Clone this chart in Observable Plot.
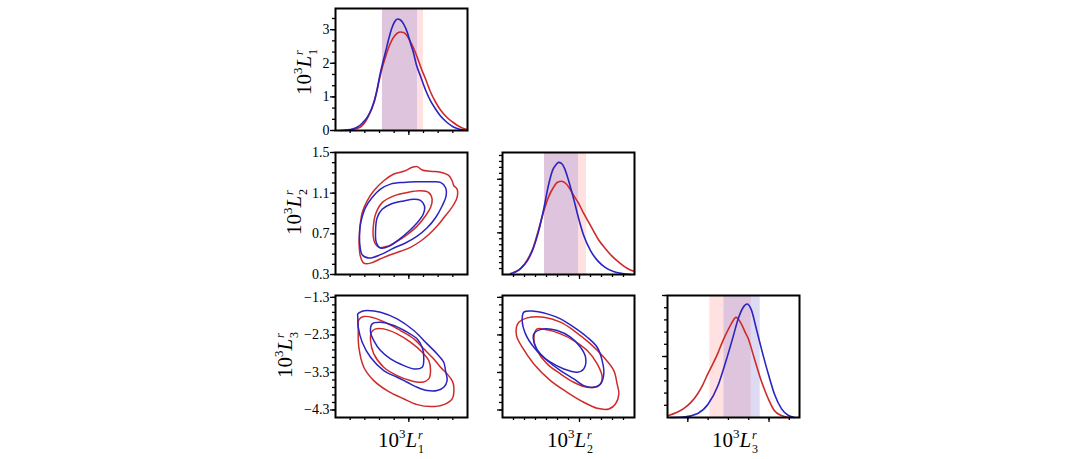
<!DOCTYPE html>
<html><head><meta charset="utf-8">
<script src="https://cdn.jsdelivr.net/npm/d3@7"></script>
<script src="https://cdn.jsdelivr.net/npm/@observablehq/plot@0.6"></script>
<style>
html,body{margin:0;padding:0;background:#fff;}
#root{position:relative;width:1080px;height:459px;overflow:hidden;background:#fff;}
.lab{position:absolute;font-family:"Liberation Serif","Times New Roman",serif;font-size:21px;color:#000;white-space:nowrap;line-height:1;transform:translate(-50%,-50%);}
.lab.rot{transform:translate(-50%,-50%) rotate(-90deg);}
.sup3{font-size:13px;position:relative;top:-9px;}
.ss{display:inline-flex;flex-direction:column;font-size:12px;line-height:14px;vertical-align:8px;margin-left:1px;}
</style></head><body><div id="root"></div>
<script>
// ---------- data ----------
const variables = ["1", "2", "3"];
const seriesColors = {red: "#cf2a2a", blue: "#2a24c0"};

// 1-D marginal densities: [value, density]
const densL1Blue = [[0.134,0],[0.175,0.015],[0.216,0.045],[0.250,0.104],[0.284,0.223],[0.318,0.402],[0.345,0.640],[0.366,0.908],[0.386,1.265],[0.400,1.592],[0.420,1.979],[0.441,2.336],[0.461,2.693],[0.482,3.021],[0.502,3.229],[0.523,3.318],[0.543,3.289],[0.564,3.170],[0.591,2.902],[0.611,2.604],[0.632,2.307],[0.652,1.949],[0.679,1.622],[0.714,1.205],[0.748,0.878],[0.782,0.640],[0.816,0.432],[0.857,0.253],[0.904,0.104],[0.952,0.03],[1.000,0]];
const densL1Red = [[0.168,0],[0.216,0.03],[0.270,0.104],[0.318,0.372],[0.366,0.878],[0.400,1.533],[0.420,1.890],[0.441,2.188],[0.461,2.455],[0.482,2.664],[0.502,2.813],[0.523,2.902],[0.543,2.932],[0.564,2.917],[0.584,2.842],[0.604,2.693],[0.632,2.455],[0.659,2.158],[0.686,1.830],[0.714,1.533],[0.748,1.146],[0.782,0.848],[0.816,0.610],[0.857,0.402],[0.898,0.253],[0.938,0.134],[0.973,0.06],[1.000,0.03]];
const densL2Blue = [[0.373,0.033],[0.418,0.083],[0.464,0.2],[0.527,0.467],[0.582,0.9],[0.627,1.433],[0.673,2.167],[0.718,3.0],[0.755,3.5],[0.782,3.667],[0.809,3.767],[0.836,3.733],[0.864,3.567],[0.900,3.167],[0.945,2.567],[0.991,1.9],[1.036,1.333],[1.100,0.8],[1.164,0.467],[1.236,0.233],[1.309,0.1],[1.391,0.033],[1.464,0]];
const densL2Red = [[0.400,0.067],[0.464,0.2],[0.527,0.5],[0.582,0.933],[0.627,1.5],[0.673,2.1],[0.718,2.6],[0.764,2.933],[0.800,3.1],[0.836,3.133],[0.873,3.067],[0.909,2.9],[0.945,2.667],[0.991,2.4],[1.036,2.067],[1.082,1.767],[1.127,1.467],[1.173,1.167],[1.236,0.867],[1.300,0.6],[1.373,0.367],[1.436,0.2],[1.500,0.1]];
const densL3Blue = [[-4.425,0],[-4.103,0.004],[-3.756,0.033],[-3.507,0.106],[-3.259,0.26],[-3.061,0.463],[-2.887,0.659],[-2.763,0.805],[-2.639,0.902],[-2.540,0.93],[-2.440,0.886],[-2.316,0.732],[-2.192,0.569],[-2.019,0.358],[-1.870,0.195],[-1.696,0.073],[-1.522,0.016],[-1.373,0]];
const densL3Red = [[-4.475,0.016],[-4.277,0.041],[-4.103,0.073],[-3.929,0.122],[-3.756,0.195],[-3.632,0.268],[-3.507,0.358],[-3.383,0.439],[-3.259,0.528],[-3.160,0.61],[-3.061,0.683],[-2.937,0.764],[-2.813,0.821],[-2.689,0.772],[-2.589,0.70],[-2.515,0.650],[-2.366,0.488],[-2.192,0.301],[-2.019,0.154],[-1.870,0.057],[-1.696,0.016],[-1.522,0]];

// credible intervals shaded on the diagonal: [low, high]
const bandL1 = {red: [0.420, 0.700], blue: [0.420, 0.659]};
const bandL2 = {red: [0.682, 1.064], blue: [0.682, 0.991]};
const bandL3 = {red: [-3.458, -2.440], blue: [-3.110, -2.217]};

// 2-D contours (closed outlines): [x, y]
const cL1L2RedOuter = [[0.282,0.908],[0.316,1.024],[0.361,1.123],[0.429,1.222],[0.498,1.288],[0.566,1.315],[0.623,1.354],[0.657,1.361],[0.691,1.328],[0.748,1.315],[0.816,1.305],[0.873,1.272],[0.895,1.222],[0.907,1.173],[0.929,1.140],[0.929,1.057],[0.907,0.991],[0.884,0.941],[0.838,0.858],[0.793,0.776],[0.736,0.693],[0.679,0.627],[0.611,0.567],[0.543,0.528],[0.475,0.495],[0.407,0.455],[0.339,0.412],[0.293,0.412],[0.270,0.478],[0.261,0.594],[0.264,0.726],[0.270,0.809]];
const cL1L2BlueOuter = [[0.270,0.792],[0.304,0.958],[0.350,1.057],[0.407,1.140],[0.475,1.189],[0.566,1.206],[0.657,1.212],[0.748,1.212],[0.816,1.206],[0.850,1.156],[0.854,1.073],[0.827,0.974],[0.782,0.858],[0.725,0.759],[0.657,0.677],[0.577,0.610],[0.498,0.561],[0.407,0.495],[0.327,0.462],[0.282,0.495],[0.266,0.594],[0.264,0.693]];
const cL1L2RedInner = [[0.357,0.759],[0.373,0.892],[0.418,1.007],[0.498,1.073],[0.589,1.106],[0.679,1.123],[0.736,1.106],[0.759,1.040],[0.748,0.958],[0.713,0.875],[0.657,0.776],[0.589,0.693],[0.520,0.627],[0.452,0.577],[0.395,0.567],[0.368,0.610],[0.357,0.677]];
const cL1L2BlueInner = [[0.373,0.726],[0.384,0.858],[0.418,0.941],[0.475,0.991],[0.566,1.024],[0.634,1.040],[0.679,1.030],[0.707,0.974],[0.698,0.892],[0.657,0.809],[0.600,0.726],[0.532,0.644],[0.464,0.577],[0.407,0.561],[0.379,0.610]];

const cL1L3BlueOuter = [[0.252,-1.739],[0.282,-1.668],[0.316,-1.650],[0.407,-1.694],[0.520,-1.872],[0.634,-2.183],[0.725,-2.539],[0.793,-2.806],[0.838,-3.028],[0.850,-3.250],[0.861,-3.517],[0.838,-3.694],[0.793,-3.783],[0.725,-3.783],[0.657,-3.694],[0.589,-3.561],[0.520,-3.428],[0.429,-3.250],[0.339,-2.894],[0.282,-2.494],[0.255,-2.094],[0.252,-1.828]];
const cL1L3RedOuter = [[0.259,-1.899],[0.293,-1.810],[0.361,-1.846],[0.452,-1.988],[0.543,-2.183],[0.634,-2.406],[0.702,-2.672],[0.770,-2.939],[0.816,-3.161],[0.861,-3.339],[0.895,-3.517],[0.907,-3.694],[0.895,-4.006],[0.838,-4.157],[0.748,-4.210],[0.657,-4.157],[0.566,-4.006],[0.452,-3.783],[0.361,-3.517],[0.293,-3.161],[0.259,-2.628],[0.255,-2.183]];
const cL1L3BlueInner = [[0.350,-2.006],[0.407,-1.961],[0.498,-2.050],[0.589,-2.228],[0.657,-2.406],[0.691,-2.628],[0.702,-2.939],[0.691,-3.161],[0.634,-3.206],[0.566,-3.117],[0.475,-2.939],[0.407,-2.717],[0.361,-2.450],[0.339,-2.228]];
const cL1L3RedInner = [[0.373,-2.139],[0.429,-2.139],[0.520,-2.272],[0.611,-2.494],[0.691,-2.761],[0.736,-2.983],[0.748,-3.250],[0.736,-3.472],[0.691,-3.561],[0.611,-3.517],[0.520,-3.383],[0.429,-3.161],[0.361,-2.806],[0.339,-2.450],[0.345,-2.228]];

const cL2L3BlueOuter = [[0.494,-1.694],[0.585,-1.668],[0.706,-1.739],[0.827,-1.872],[0.948,-2.094],[1.070,-2.361],[1.161,-2.628],[1.206,-2.983],[1.221,-3.339],[1.191,-3.606],[1.130,-3.694],[1.039,-3.650],[0.948,-3.472],[0.827,-3.250],[0.706,-2.983],[0.585,-2.628],[0.509,-2.272],[0.479,-1.917]];
const cL2L3RedOuter = [[0.448,-1.961],[0.524,-1.846],[0.676,-1.828],[0.827,-1.961],[0.948,-2.183],[1.100,-2.539],[1.221,-2.894],[1.312,-3.250],[1.342,-3.606],[1.358,-3.872],[1.327,-4.139],[1.267,-4.272],[1.161,-4.254],[1.039,-4.094],[0.888,-3.828],[0.736,-3.517],[0.585,-3.072],[0.479,-2.628],[0.427,-2.317],[0.427,-2.094]];
const cL2L3BlueInner = [[0.585,-2.272],[0.676,-2.139],[0.797,-2.183],[0.918,-2.361],[1.009,-2.628],[1.055,-2.894],[1.039,-3.206],[0.979,-3.294],[0.858,-3.206],[0.736,-3.028],[0.645,-2.806],[0.591,-2.539]];
const cL2L3RedInner = [[0.615,-2.139],[0.706,-2.165],[0.827,-2.272],[0.948,-2.450],[1.070,-2.717],[1.161,-3.072],[1.206,-3.428],[1.176,-3.650],[1.070,-3.694],[0.948,-3.561],[0.827,-3.339],[0.706,-3.072],[0.615,-2.717],[0.585,-2.406]];

// axis domains and ticks
const domL1 = [0.1, 1.0];
const domL2 = [0.3, 1.5];
const domL3 = [-4.5, -1.25];
const domD1 = [0, 3.63];
const domD2 = [0, 4.1];
const domD3 = [0, 1.0];
const ticksL1 = [0.2, 0.3, 0.4, 0.5, 0.6, 0.7, 0.8, 0.9];
const majorL1 = [0.6];
const ticksL2x = [0.4, 0.5, 0.6, 0.7, 0.8, 0.9, 1.0, 1.1, 1.2, 1.3, 1.4];
const majorL2x = [1.0];
const ticksL2y = [0.3, 0.4, 0.5, 0.6, 0.7, 0.8, 0.9, 1.0, 1.1, 1.2, 1.3, 1.4, 1.5];
const labelsL2y = [0.3, 0.7, 1.1, 1.5];
const ticksL3x = [-4.0, -3.5, -3.0, -2.5, -2.0, -1.5];
const majorL3x = [-4.0, -2.0];
const ticksL3y = [-4.3, -4.1, -3.9, -3.7, -3.5, -3.3, -3.1, -2.9, -2.7, -2.5, -2.3, -2.1, -1.9, -1.7, -1.5, -1.3];
const labelsL3y = [-4.3, -3.3, -2.3, -1.3];
const ticksD1 = [0, 0.333, 0.667, 1, 1.333, 1.667, 2, 2.333, 2.667, 3, 3.333];
const labelsD1 = [0, 1, 2, 3];
const ticksD2 = [0.2, 0.4, 0.6, 0.8, 1.0, 1.2, 1.4, 1.6, 1.8, 2.0, 2.2, 2.4, 2.6, 2.8, 3.0, 3.2, 3.4, 3.6, 3.8, 4.0];
const majorD2 = [1.4, 3.2];
const ticksD3 = [0.1, 0.2, 0.3, 0.4, 0.5, 0.6, 0.7, 0.8, 0.9, 1.0];
const majorD3 = [0.5, 1.0];

// ---------- drawing ----------
const root = document.getElementById("root");
const none = () => "";
const fmtNum = d => (Number.isInteger(d) ? String(d) : d.toFixed(1)).replace("-", "\u2212");

function bandMarks(band) {
  const rows = [{s: "red", lo: band.red[0], hi: band.red[1]}, {s: "blue", lo: band.blue[0], hi: band.blue[1]}];
  return [
    Plot.barX(rows, {x1: "lo", x2: "hi", fill: d => d.s === "red" ? "#ff8080" : "#8a78d8", fillOpacity: d => d.s === "red" ? 0.24 : 0.27})
  ];
}
function densityMarks(red, blue) {
  return [
    Plot.line(red, {x: d => d[0], y: d => d[1], stroke: seriesColors.red, strokeWidth: 1.6, curve: "monotone-x"}),
    Plot.line(blue, {x: d => d[0], y: d => d[1], stroke: seriesColors.blue, strokeWidth: 1.6, curve: "monotone-x"})
  ];
}
function contourMarks(list) {
  return list.map(([data, s]) => Plot.line(data, {x: d => d[0], y: d => d[1], stroke: seriesColors[s], strokeWidth: 1.5, curve: "catmull-rom-closed"}));
}

function panel(o) {
  const mL = 40, mR = 6, mT = 6, mB = 12, W = 132, H = 122;
  const svg = Plot.plot({
    width: W + mL + mR, height: H + mT + mB,
    marginLeft: mL, marginRight: mR, marginTop: mT, marginBottom: mB,
    x: {domain: o.xDomain}, y: {domain: o.yDomain},
    style: {fontFamily: "'Liberation Serif', 'Times New Roman', serif", fontSize: "14px", background: "transparent", color: "#000", overflow: "visible"},
    marks: [
      ...o.marks,
      Plot.axisX({ticks: o.xTicks, tickSize: 3, tickFormat: none, label: null, strokeWidth: 1.3}),
      Plot.axisX({ticks: o.xMajor, tickSize: 5, tickFormat: none, label: null, strokeWidth: 1.3}),
      Plot.axisY({ticks: o.yTicks, tickSize: 3, tickFormat: none, label: null, strokeWidth: 1.3}),
      Plot.axisY({ticks: o.yMajor, tickSize: 5, tickPadding: 1, tickFormat: o.yLabel ? fmtNum : none, label: null, strokeWidth: 1.3}),
      Plot.frame({stroke: "#000", strokeWidth: 2})
    ]
  });
  svg.style.position = "absolute";
  svg.style.left = (o.left - mL) + "px";
  svg.style.top = (o.top - mT) + "px";
  root.appendChild(svg);
}

// row 1
panel({left: 335, top: 8, xDomain: domL1, yDomain: domD1, xTicks: ticksL1, xMajor: majorL1, yTicks: ticksD1, yMajor: labelsD1, yLabel: true,
  marks: [...bandMarks(bandL1), ...densityMarks(densL1Red, densL1Blue)]});
// row 2
panel({left: 335, top: 152, xDomain: domL1, yDomain: domL2, xTicks: ticksL1, xMajor: majorL1, yTicks: ticksL2y, yMajor: labelsL2y, yLabel: true,
  marks: contourMarks([[cL1L2RedOuter, "red"], [cL1L2RedInner, "red"], [cL1L2BlueOuter, "blue"], [cL1L2BlueInner, "blue"]])});
panel({left: 502, top: 152, xDomain: domL2, yDomain: domD2, xTicks: ticksL2x, xMajor: majorL2x, yTicks: ticksD2, yMajor: majorD2, yLabel: false,
  marks: [...bandMarks(bandL2), ...densityMarks(densL2Red, densL2Blue)]});
// row 3
panel({left: 335, top: 295, xDomain: domL1, yDomain: domL3, xTicks: ticksL1, xMajor: majorL1, yTicks: ticksL3y, yMajor: labelsL3y, yLabel: true,
  marks: contourMarks([[cL1L3RedOuter, "red"], [cL1L3RedInner, "red"], [cL1L3BlueOuter, "blue"], [cL1L3BlueInner, "blue"]])});
panel({left: 502, top: 295, xDomain: domL2, yDomain: domL3, xTicks: ticksL2x, xMajor: majorL2x, yTicks: ticksL3y, yMajor: labelsL3y, yLabel: false,
  marks: contourMarks([[cL2L3RedOuter, "red"], [cL2L3RedInner, "red"], [cL2L3BlueOuter, "blue"], [cL2L3BlueInner, "blue"]])});
panel({left: 667, top: 295, xDomain: domL3, yDomain: domD3, xTicks: ticksL3x, xMajor: majorL3x, yTicks: ticksD3, yMajor: majorD3, yLabel: false,
  marks: [...bandMarks(bandL3), ...densityMarks(densL3Red, densL3Blue)]});

// axis titles
function title(n) {
  return `10<span class="sup3">3</span><i>L</i><span class="ss"><i>r</i><span>${n}</span></span>`;
}
function addLabel(n, x, y, rot) {
  const el = document.createElement("div");
  el.className = "lab" + (rot ? " rot" : "");
  el.style.left = x + "px";
  el.style.top = y + "px";
  el.innerHTML = title(n);
  root.appendChild(el);
}
addLabel(variables[0], 401, 442, false);
addLabel(variables[1], 570, 442, false);
addLabel(variables[2], 735, 442, false);
addLabel(variables[0], 306, 72, true);
addLabel(variables[1], 296, 212, true);
addLabel(variables[2], 287, 355, true);
</script></body></html>
